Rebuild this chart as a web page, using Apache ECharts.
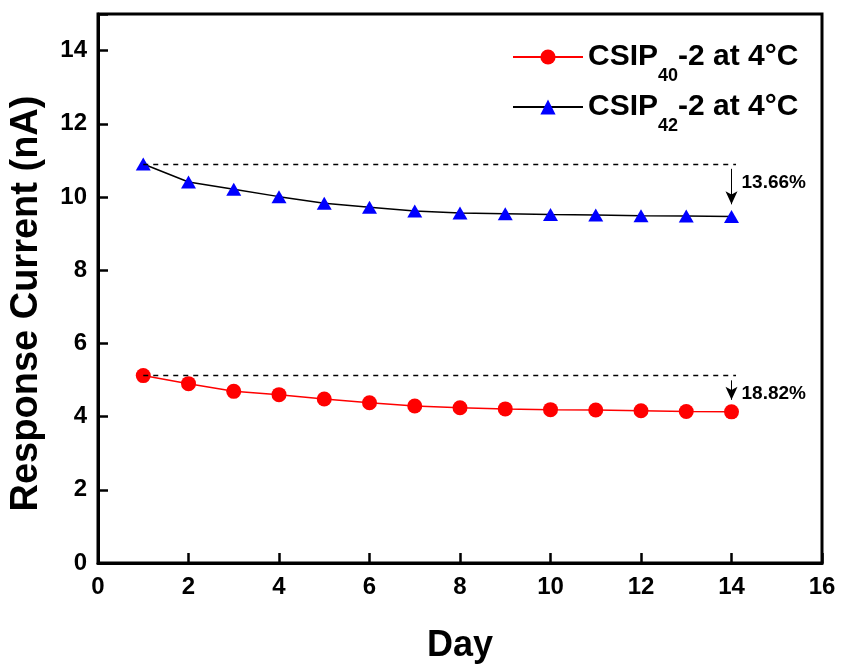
<!DOCTYPE html>
<html>
<head>
<meta charset="utf-8">
<script src="https://cdn.jsdelivr.net/npm/echarts@6/dist/echarts.min.js"></script>
<style>html,body{margin:0;padding:0;background:#fff}#c{width:842px;height:666px}</style>
</head>
<body>
<div id="c"></div>
<script>
const days = [1, 2, 3, 4, 5, 6, 7, 8, 9, 10, 11, 12, 13, 14];
const csip40 = [5.12, 4.90, 4.69, 4.60, 4.48, 4.38, 4.29, 4.24, 4.21, 4.19, 4.18, 4.16, 4.14, 4.13];
const csip42 = [10.90, 10.41, 10.21, 10.01, 9.83, 9.72, 9.62, 9.56, 9.54, 9.52, 9.51, 9.49, 9.48, 9.47];
const seriesNames = ['CSIP40', 'CSIP42'];
const legendSubs = ['40', '42'];
const dropLabels = ['18.82%', '13.66%'];
const xTicks = [0, 2, 4, 6, 8, 10, 12, 14, 16];
const yTicks = [0, 2, 4, 6, 8, 10, 12, 14];

const FONT = '"Liberation Sans", Arial, sans-serif';

function guides(vals, label) {
  const n = vals.length;
  const x0 = days[0], x1 = days[n - 1];
  const v0 = vals[0], v1 = vals[n - 1];
  return {
    markLine: {
      silent: true,
      animation: false,
      label: { show: false },
      data: [
        [
          { coord: [x0, v0], symbol: 'none', lineStyle: { type: [5, 5], color: '#000', width: 1.3 } },
          { coord: [x1 + 0.1, v0], symbol: 'none' }
        ],
        [
          { coord: [x1, v0 - 0.13], symbol: 'none', lineStyle: { type: 'solid', color: '#000', width: 1 } },
          { coord: [x1, v1 + 0.33], symbol: 'arrow', symbolSize: [9, 13] }
        ]
      ]
    },
    markPoint: {
      silent: true,
      animation: false,
      symbol: 'circle',
      symbolSize: 0,
      itemStyle: { color: 'transparent' },
      label: {
        show: true, position: 'right', distance: 10,
        color: '#000', fontFamily: FONT, fontWeight: 'bold', fontSize: 19,
        formatter: label
      },
      data: [{ coord: [x1, v0 - 0.5] }]
    }
  };
}

const legendRich = {
  m: { fontFamily: FONT, fontWeight: 'bold', fontSize: 30, color: '#000' },
  s: { fontFamily: FONT, fontWeight: 'bold', fontSize: 18, color: '#000', padding: [38, 0, 0, 0] }
};
function legendFmt(name) {
  const i = seriesNames.indexOf(name);
  return '{m|CSIP}{s|' + legendSubs[i] + '}{m|-2 at 4°C}';
}

const chart = echarts.init(document.getElementById('c'), null, { renderer: 'canvas' });
chart.setOption({
  animation: false,
  backgroundColor: '#fff',
  grid: {
    left: 98, right: 20, top: 14, bottom: 103, show: true, borderColor: '#000', borderWidth: 3,
    containLabel: false, outerBoundsMode: 'none'
  },
  legend: [
    {
      data: [seriesNames[0]], left: 507, top: 37, itemWidth: 70, itemHeight: 19, itemGap: 10,
      formatter: legendFmt, textStyle: { rich: legendRich }
    },
    {
      data: [seriesNames[1]], left: 507, top: 87, itemWidth: 70, itemHeight: 19, itemGap: 10,
      formatter: legendFmt, textStyle: { rich: legendRich }
    }
  ],
  xAxis: {
    type: 'value', min: xTicks[0], max: xTicks[xTicks.length - 1], interval: 2,
    name: 'Day', nameLocation: 'middle', nameGap: 65,
    nameTextStyle: { fontFamily: FONT, fontWeight: 'bold', fontSize: 36, color: '#000' },
    axisLine: { lineStyle: { color: '#000', width: 3 } },
    axisTick: { inside: true, length: 10, lineStyle: { color: '#000', width: 2.5 } },
    axisLabel: { margin: 12, fontFamily: FONT, fontWeight: 'bold', fontSize: 24, color: '#000' },
    splitLine: { show: false }
  },
  yAxis: {
    type: 'value', min: yTicks[0], max: 15, interval: 2,
    name: 'Response Current (nA)', nameLocation: 'middle', nameGap: 52,
    nameTextStyle: { fontFamily: FONT, fontWeight: 'bold', fontSize: 38, color: '#000', padding: [0, 30, 0, 0] },
    axisLine: { lineStyle: { color: '#000', width: 3 } },
    axisTick: { inside: true, length: 10, lineStyle: { color: '#000', width: 2.5 } },
    axisLabel: {
      margin: 11, fontFamily: FONT, fontWeight: 'bold', fontSize: 24, color: '#000',
      formatter: v => (yTicks.indexOf(v) >= 0 ? String(v) : '')
    },
    splitLine: { show: false }
  },
  series: [
    Object.assign({
      name: seriesNames[0], type: 'line',
      data: days.map((d, i) => [d, csip40[i]]),
      symbol: 'circle', symbolSize: 15,
      itemStyle: { color: '#ff0000' },
      lineStyle: { color: '#ff0000', width: 1.5 },
      z: 3
    }, guides(csip40, dropLabels[0])),
    Object.assign({
      name: seriesNames[1], type: 'line',
      data: days.map((d, i) => [d, csip42[i]]),
      symbol: 'triangle', symbolSize: [15, 13],
      itemStyle: { color: '#0000ff' },
      lineStyle: { color: '#000', width: 1.5 },
      z: 3
    }, guides(csip42, dropLabels[1]))
  ]
});
</script>
</body>
</html>
